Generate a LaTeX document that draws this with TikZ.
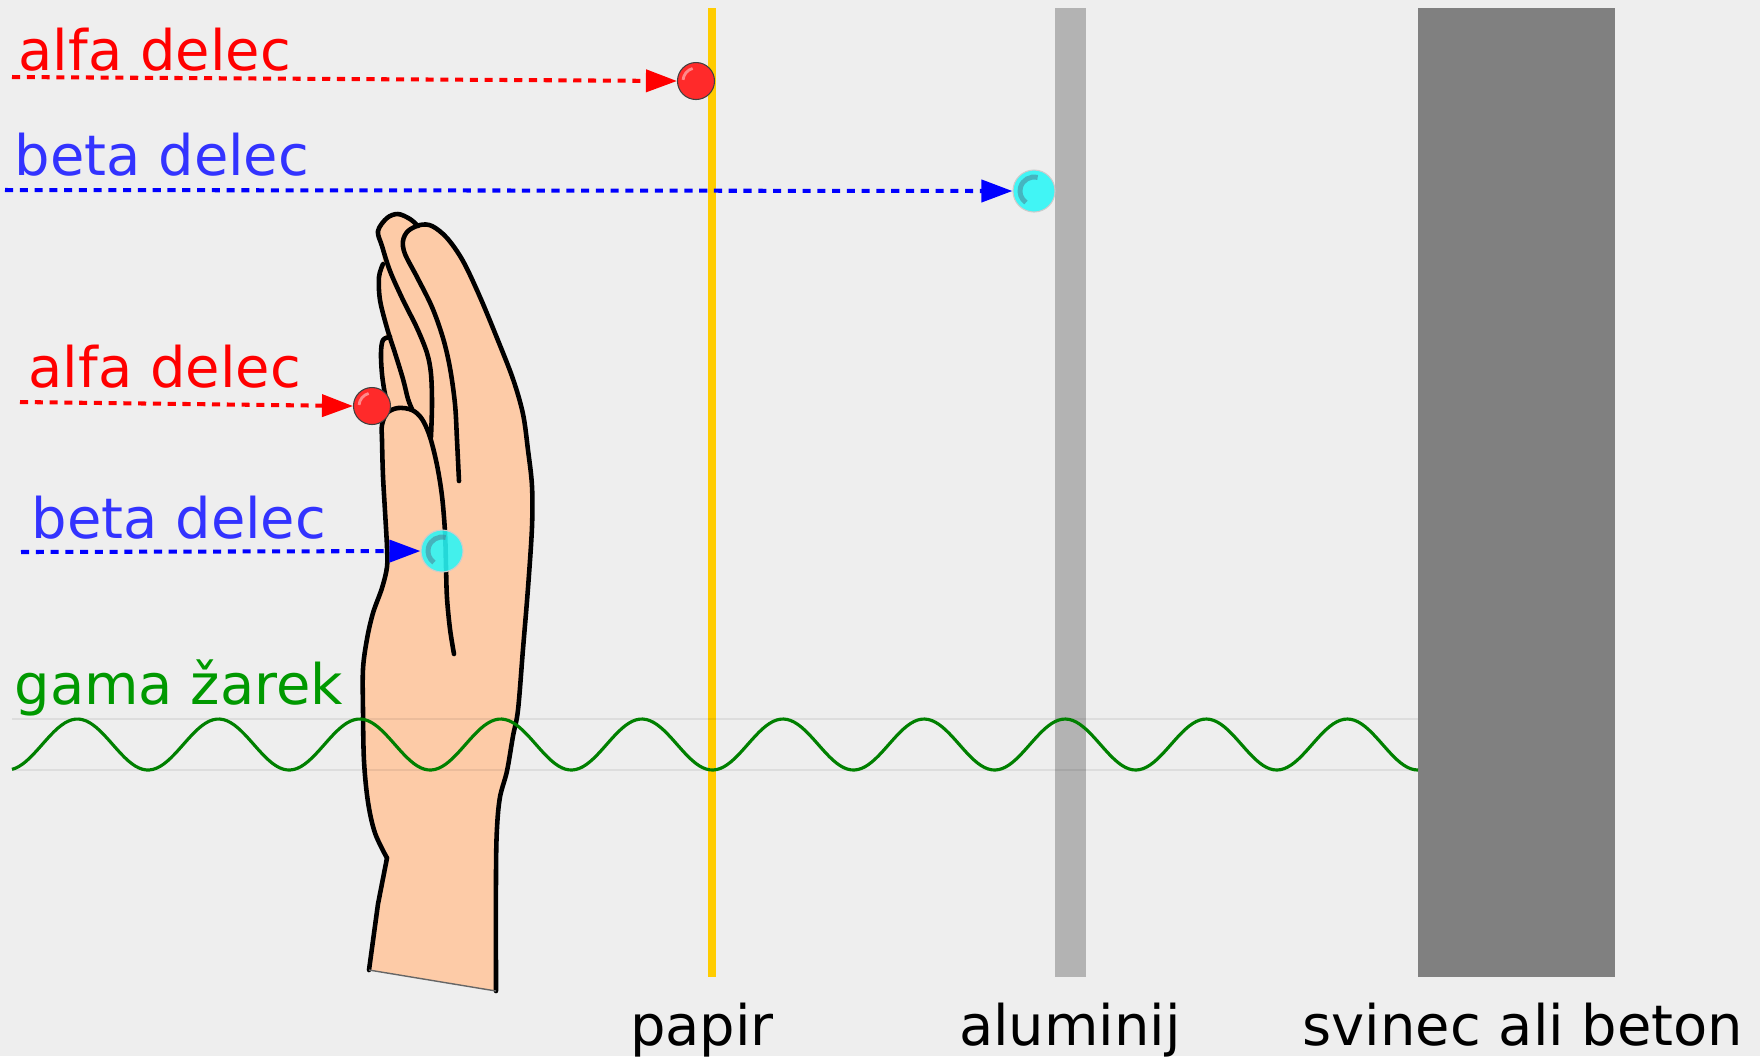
\documentclass[tikz,border=0pt]{standalone}
\usepackage{fontspec}
\setmainfont{DejaVu Sans}
\usetikzlibrary{arrows.meta}

\definecolor{bgcol}{HTML}{EEEEEE}
\definecolor{papercol}{HTML}{FFCC00}
\definecolor{alucol}{HTML}{B3B3B3}
\definecolor{leadcol}{HTML}{808080}
\definecolor{skin}{HTML}{FDCBA7}
\definecolor{alfared}{HTML}{FF0000}
\definecolor{betablue}{HTML}{0000FF}
\definecolor{betatext}{HTML}{3333FF}
\definecolor{gamatext}{HTML}{009900}
\definecolor{wavegreen}{HTML}{008000}
\definecolor{ballred}{HTML}{FF2A2A}
\definecolor{ballcyan}{HTML}{2AF6F6}

\tikzset{
  txt/.style={inner sep=0pt, font=\fontsize{15.9}{19}\selectfont},
  alfaline/.style={alfared, line width=1.15pt, dash pattern=on 2.3pt off 1.9pt,
    -{Triangle[length=0.31cm, width=0.22cm]}},
  betaline/.style={betablue, line width=1.15pt, dash pattern=on 2.3pt off 1.9pt,
    -{Triangle[length=0.31cm, width=0.22cm]}},
  alfaball/.style={circle, minimum size=0.37cm, inner sep=0pt, draw=black!75,
    line width=0.3pt, fill=ballred,
    path picture={\draw[white, opacity=0.45, line width=0.8pt]
      (path picture bounding box.center) ++(105:0.13cm) arc (105:175:0.13cm);}},
  betaball/.style={circle, minimum size=0.42cm, inner sep=0pt, draw=black!20,
    line width=0.3pt, fill=ballcyan, fill opacity=0.88,
    path picture={\draw[cyan!50!black, opacity=0.5, line width=1.4pt]
      (path picture bounding box.center) ++(75:0.14cm) arc (75:235:0.14cm);}},
  handline/.style={black, line width=1.3pt, line cap=round, line join=round},
  guide/.style={black, opacity=0.07, line width=0.35pt}
}

\begin{document}
\begin{tikzpicture}[x=0.01cm, y=-0.01cm]
\useasboundingbox (0,0) rectangle (1760,1056);
\fill[bgcol] (0,0) rectangle (1760,1056);

% the three absorbers
\fill[papercol] (708,8) rectangle (716,977);
\fill[alucol] (1055,8) rectangle (1086,977);
\fill[leadcol] (1418,8) rectangle (1615,977);

% hand
\fill[skin] plot[smooth, tension=0.55] coordinates {(369,970) (378,904) (387,858)}
  -- plot[smooth, tension=0.55] coordinates {(387,858) (375,833) (368,802) (364,761)
    (363,710) (363,669) (367,639) (373,613) (382,588) (387,567) (387,547) (385,511)
    (383,476) (382,440) (382,425) (387,413) (388,404) (385,394) (382,374) (381,353)
    (383,340) (387,328) (380,300) (379,277) (383,264) (380,243) (378,231) (387,218)
    (398,214) (410,219) (420,225) (432,226) (447,238) (463,261) (480,297) (497,338)
    (513,379) (523,414) (528,450) (532,486) (532,527) (528,588) (523,649) (518,710)
    (513,736) (507,771) (500,797) (497,828) (496,874) (496,991)}
  -- cycle;
\draw[handline] plot[smooth, tension=0.55] coordinates {(459,481) (457,440) (455,404)
  (450,368) (443,338) (432,307) (417,277) (405,254) (403,241) (408,231) (420,225)
  (432,226) (447,238) (463,261) (480,297) (497,338) (513,379) (523,414) (528,450)
  (532,486) (532,527) (528,588) (523,649) (518,710) (513,736) (507,771) (500,797)
  (497,828) (496,874) (496,991)};
\draw[handline] plot[smooth, tension=0.55] coordinates {(431,437) (432,404) (431,374)
  (427,353) (417,328) (403,300) (390,271) (382,246) (378,231) (387,218) (398,214)
  (410,219) (418,226)};
\draw[handline] plot[smooth, tension=0.55] coordinates {(383,264) (379,277) (380,300)
  (387,328) (395,353) (403,379) (408,399) (412,409)};
\draw[handline] plot[smooth, tension=0.55] coordinates {(390,337) (383,340) (381,353)
  (382,374) (385,394) (388,404)};
\draw[handline] plot[smooth, tension=0.55] coordinates {(454,654) (450,629) (447,598)
  (446,567) (445,532) (442,496) (437,465) (430,437) (422,419) (412,410) (398,408)
  (387,413) (382,425) (382,440) (383,476) (385,511) (387,547) (387,567) (382,588)
  (373,613) (367,639) (363,669) (363,710) (364,761) (368,802) (375,833) (387,858)};
\draw[handline] (387,858) -- (378,904) -- (369,970);
\draw[black!60, line width=0.4pt] (369,970) -- (496,991);

% gamma ray
\draw[guide] (12,719) -- (1418,719);
\draw[guide] (12,770) -- (1418,770);
\draw[wavegreen, line width=0.9pt] plot[domain=12:1418, samples=400]
  (\x, {744.5+25.5*cos(2.5514*(\x-6.9))});

% particles
\node[alfaball] (alfa1) at (696,81) {};
\node[betaball] (beta1) at (1034,191) {};
\node[alfaball] (alfa2) at (372,406) {};
\node[betaball] (beta2) at (442,551) {};

\coordinate (alfa1s) at (12,77);
\coordinate (beta1s) at (5,190);
\coordinate (alfa2s) at (20,402);
\coordinate (beta2s) at (21,552);
\draw[alfaline] (alfa1s) -- (alfa1.west);
\draw[betaline] (beta1s) -- (beta1.west);
\draw[alfaline] (alfa2s) -- (alfa2.west);
\draw[betaline] (beta2s) -- (beta2.west);

% labels
\node[txt, anchor=base west, text=alfared] (alfa1txt) at (18,70) {alfa delec};
\node[txt, anchor=base west, text=betatext] (beta1txt) at (14,175) {beta delec};
\node[txt, anchor=base west, text=alfared] (alfa2txt) at (28,387) {alfa delec};
\node[txt, anchor=base west, text=betatext] (beta2txt) at (31,538) {beta delec};
\node[txt, anchor=base west, text=gamatext] (gamatxt) at (14,704) {gama žarek};

\node[txt, anchor=base] (papir) at (702,1045) {papir};
\node[txt, anchor=base] (alu) at (1070,1045) {aluminij};
\node[txt, anchor=base] (lead) at (1523,1045) {svinec ali beton};
\end{tikzpicture}
\end{document}
